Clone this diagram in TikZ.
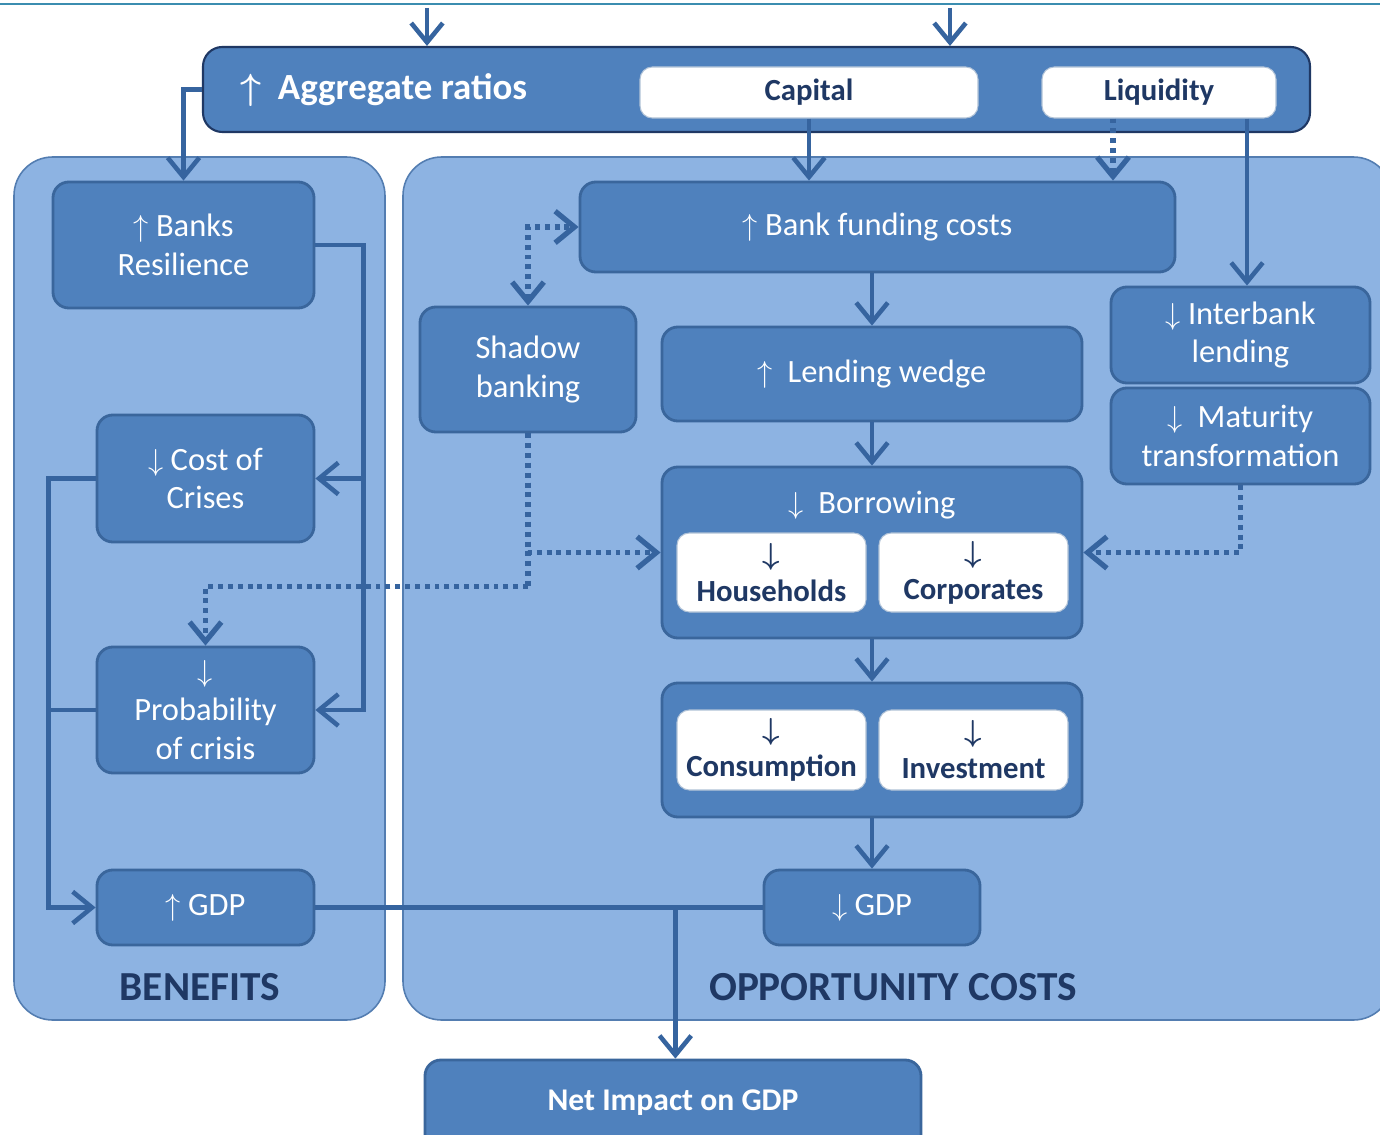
\documentclass[tikz,border=0pt]{standalone}
\usepackage{fontspec}
\usepackage{bm}
\setmainfont{Carlito}
\usetikzlibrary{arrows.meta,fit,calc}
\definecolor{panelc}{HTML}{8DB3E2}
\definecolor{boxc}{HTML}{4F81BD}
\definecolor{boxb}{HTML}{3A669C}
\definecolor{arrc}{HTML}{36649F}
\definecolor{navy}{HTML}{1F3864}
\definecolor{topline}{HTML}{3B8DB0}
\tikzset{
  panel/.style={draw=boxb!70!panelc, line width=0.9pt, fill=panelc, rounded corners=22pt, inner sep=0pt},
  paneltitle/.style={text=navy, font=\bfseries\fontsize{23.5}{28}\selectfont},
  bluebox/.style={draw=boxb, line width=1.6pt, fill=boxc, rounded corners=9pt, inner sep=0pt},
  btxt/.style={text=white, align=center, inner sep=0pt, font=\fontsize{18.5}{22}\selectfont},
  aggbox/.style={draw=navy, line width=1.2pt, fill=boxc, rounded corners=11pt, inner sep=0pt},
  whitebox/.style={fill=white, draw=boxb!40, line width=0.6pt, rounded corners=7pt, inner sep=0pt},
  wtxt/.style={text=navy, align=center, inner sep=0pt, font=\bfseries\fontsize{17.5}{21}\selectfont},
  stxt/.style={text=navy, align=center, inner sep=0pt, font=\bfseries\fontsize{17.5}{21}\selectfont},
  conn/.style={draw=arrc, line width=2.6pt, -{Straight Barb[length=11pt,width=18pt]}},
  plainline/.style={draw=arrc, line width=2.6pt},
  dotconn/.style={draw=arrc, line width=3pt, dash pattern=on 2.8pt off 2.8pt, -{Straight Barb[length=11pt,width=18pt]}},
  dotline/.style={draw=arrc, line width=3pt, dash pattern=on 2.8pt off 2.8pt}
}
\begin{document}
\begin{tikzpicture}[x=0.02cm,y=-0.02cm]
\useasboundingbox (0,0) rectangle (1380,1135);
\clip (0,0) rectangle (1380,1135);
\fill[white] (0,0) rectangle (1380,1135);
\draw[topline, line width=1.6pt] (0,4) -- (1380,4);

% panels
\node[panel, fit={(14,157)(385,1020)}] (benp) {};
\node[panel, fit={(403,157)(1392,1020)}] (oppp) {};
\node[paneltitle] (bent) at (200,987) {BENEFITS};
\node[paneltitle] (oppt) at (893,987) {OPPORTUNITY COSTS};

% top bar
\node[aggbox, fit={(203,47)(1310,132)}] (agg) {};
\node[anchor=west, text=white, inner sep=0pt, font=\bfseries\fontsize{21}{25}\selectfont] (aggt) at (240,90) {$\bm{\uparrow}$\ \ Aggregate ratios};
\node[whitebox, fit={(640,67)(978,118)}, label={[wtxt]center:Capital}] (capital) {};
\node[whitebox, fit={(1042,67)(1276,118)}, label={[wtxt]center:Liquidity}] (liq) {};
\coordinate (t1) at (427,8);
\coordinate (t2) at (950,8);

% benefits boxes
\node[bluebox, fit={(53,182)(314,308)}, label={[btxt]center:{$\uparrow$ Banks\\Resilience}}] (banks) {};
\node[bluebox, fit={(97,415)(314,542)}, label={[btxt]center:{$\downarrow$ Cost of\\Crises}}] (cost) {};
\node[bluebox, fit={(97,647)(314,773)}, label={[btxt]center:{$\downarrow$\\Probability\\of crisis}}] (prob) {};
\node[bluebox, fit={(97,870)(314,945)}, label={[btxt]center:{$\uparrow$ GDP}}] (gdpup) {};

% opportunity cost boxes
\node[bluebox, fit={(580,182)(1175,272)}, label={[btxt]center:{$\uparrow$ Bank funding costs}}] (fund) {};
\node[bluebox, fit={(420,307)(636,432)}, label={[btxt]center:{Shadow\\banking}}] (shadow) {};
\node[bluebox, fit={(662,327)(1082,421)}, label={[btxt]center:{$\uparrow$\ \ Lending wedge}}] (lend) {};
\node[bluebox, fit={(1111,287)(1370,383)}, label={[btxt]center:{$\downarrow$ Interbank\\lending}}] (inter) {};
\node[bluebox, fit={(1111,388)(1370,484)}, label={[btxt]center:{$\downarrow$\ \ Maturity\\transformation}}] (mat) {};
\node[bluebox, fit={(662,467)(1082,638)}] (borrow) {};
\node[btxt] (borrowt) at (872,505) {$\downarrow$\ \ Borrowing};
\node[whitebox, fit={(677,533)(866,612)}, label={[stxt]center:{$\bm{\downarrow}$\\Households}}] (house) {};
\node[whitebox, fit={(879,533)(1068,612)}, label={[stxt]center:{$\bm{\downarrow}$\\Corporates}}] (corp) {};
\node[bluebox, fit={(662,683)(1082,817)}] (spend) {};
\node[whitebox, fit={(677,710)(866,790)}, label={[stxt]center:{$\bm{\downarrow}$\\Consumption}}] (cons) {};
\node[whitebox, fit={(879,710)(1068,790)}, label={[stxt]center:{$\bm{\downarrow}$\\Investment}}] (inv) {};
\node[bluebox, fit={(764,870)(980,945)}, label={[btxt]center:{$\downarrow$ GDP}}] (gdpdown) {};
\node[bluebox, fit={(425,1060)(921,1150)}] (net) {};
\node[text=white, inner sep=0pt, font=\bfseries\fontsize{18}{22}\selectfont] (nett) at (673,1103) {Net Impact on GDP};

% connectors
\draw[conn] (t1) -- (t1 |- agg.north);
\draw[conn] (t2) -- (t2 |- agg.north);
\draw[conn] (agg.west) -| (banks.north);
\draw[conn] (capital.south) -- (capital.south |- fund.north);
\coordinate (lq1) at ($(liq.south)+(-46,0)$);
\coordinate (lq2) at ($(liq.south)+(88,0)$);
\draw[dotconn] (lq1) -- (lq1 |- fund.north);
\draw[conn] (lq2) -- (lq2 |- inter.north);
\draw[conn] (fund.south -| lend.north) -- (lend.north);
\draw[conn] (lend.south) -- (borrow.north);
\draw[conn] (borrow.south) -- (spend.north);
\draw[conn] (spend.south) -- (gdpdown.north);
\draw[dotconn, {Straight Barb[length=11pt,width=18pt]}-{Straight Barb[length=11pt,width=18pt]}] (shadow.north) |- (fund.west);
\coordinate (sj) at ($(shadow.south)+(0,153)$);
\draw[dotconn] (shadow.south) |- (borrow.west);
\draw[dotline] (shadow.south) -- (sj);
\draw[dotconn] (sj) -| (prob.north);
\draw[dotconn] (mat.south) |- (borrow.east);
\coordinate (bj) at ($(banks.east)+(48,0)$);
\draw[conn] (banks.east) -- (bj) |- (prob.east);
\draw[conn] (bj) |- (cost.east);
\coordinate (cj) at ($(cost.west)+(-47,0)$);
\draw[conn] (cost.west) -- (cj) |- (gdpup.west);
\draw[plainline] (prob.west) -- (prob.west -| cj);
\draw[plainline] (gdpup.east) -- (gdpdown.west);
\coordinate (nj) at ($(gdpup.east)!0.805!(gdpdown.west)$);
\draw[conn] (nj) -- (nj |- net.north);
\end{tikzpicture}
\end{document}
